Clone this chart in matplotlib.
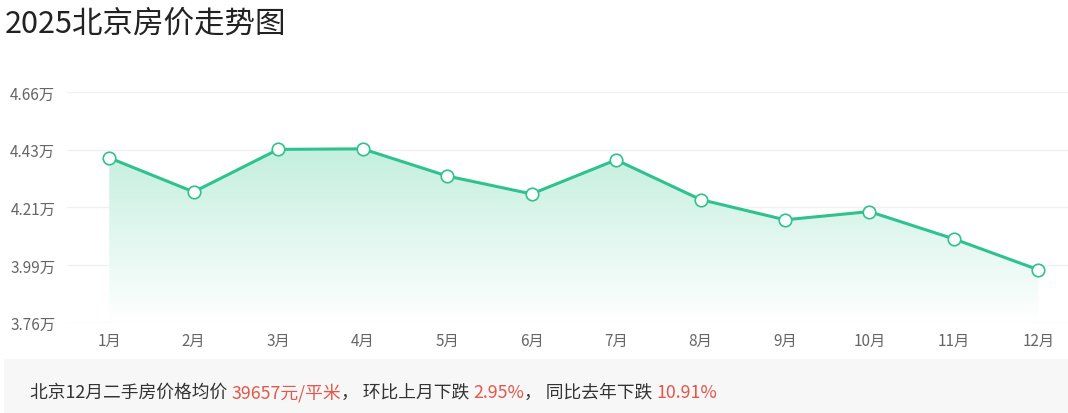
import numpy as np
import matplotlib
matplotlib.use('Agg')
import matplotlib.pyplot as plt
from matplotlib.colors import LinearSegmentedColormap
from matplotlib.patches import Rectangle

plt.rcParams['font.family'] = ['Noto Sans CJK SC', 'DejaVu Sans']

# Data (yuan per square metre)
months = ['1月', '2月', '3月', '4月', '5月', '6月', '7月', '8月', '9月', '10月', '11月', '12月']
prices = [44030, 42700, 44360, 44380, 43320, 42620, 43950, 42400, 41610, 41930, 40863, 39657]
ytick_vals = [37600, 39850, 42100, 44350, 46600]
ytick_labels = ['3.76万', '3.99万', '4.21万', '4.43万', '4.66万']

line_color = '#2ec28e'

fig = plt.figure(figsize=(10.68, 4.14), dpi=100)
ax = fig.add_axes([67 / 1068, 1 - 323.5 / 414, 1 - 67 / 1068, 230.5 / 414])

x = np.arange(len(months))
y = np.array(prices)

ax.set_xlim(-0.5, 11.35)
ax.set_ylim(ytick_vals[0], ytick_vals[-1])

# gradient area under the line
poly = ax.fill_between(x, y, ytick_vals[0], color='none', lw=0)
cmap = LinearSegmentedColormap.from_list('g', ['#ffffff', '#c4efdf'])
grad = np.linspace(0, 1, 256).reshape(-1, 1)
img = ax.imshow(grad, cmap=cmap, aspect='auto', origin='lower',
                extent=[x[0], x[-1], ytick_vals[0], max(prices)], zorder=1)
path = poly.get_paths()[0]
img.set_clip_path(path, transform=ax.transData)

ax.plot(x, y, color=line_color, lw=2.2, zorder=3,
        marker='o', markersize=9, markerfacecolor='white',
        markeredgecolor=line_color, markeredgewidth=1.2)

ax.set_yticks(ytick_vals)
ax.set_yticklabels(ytick_labels)
ax.set_xticks(x)
ax.set_xticklabels(months)
ax.grid(axis='y', color='#f0f0f0', lw=1)
ax.set_axisbelow(True)
for s in ax.spines.values():
    s.set_visible(False)
ax.tick_params(axis='both', length=0, labelsize=11, labelcolor='#666666')
ax.tick_params(axis='y', pad=8.5)
ax.tick_params(axis='x', pad=7)

fig.text(5 / 1068, 1 - 24 / 414, '2025北京房价走势图', fontsize=22, color='#222222',
         va='center', ha='left')

# summary box
fig.patches.append(Rectangle((4 / 1068, 0), 1, 54 / 414, transform=fig.transFigure,
                             facecolor='#f7f7f7', edgecolor='none', zorder=0))

parts = [('北京12月二手房价格均价 ', '#333333'), ('39657元/平米', '#e4574a'),
         ('， 环比上月下跌 ', '#333333'), ('2.95%', '#e4574a'),
         ('， 同比去年下跌 ', '#333333'), ('10.91%', '#e4574a')]
fig.canvas.draw()
renderer = fig.canvas.get_renderer()
xpos = 30 / 1068
for txt, col in parts:
    t = fig.text(xpos, 1 - 393 / 414, txt, fontsize=12.8, color=col, va='center', ha='left')
    bb = t.get_window_extent(renderer=renderer)
    xpos += bb.width / fig.bbox.width

fig.savefig('out.png', dpi=100)
